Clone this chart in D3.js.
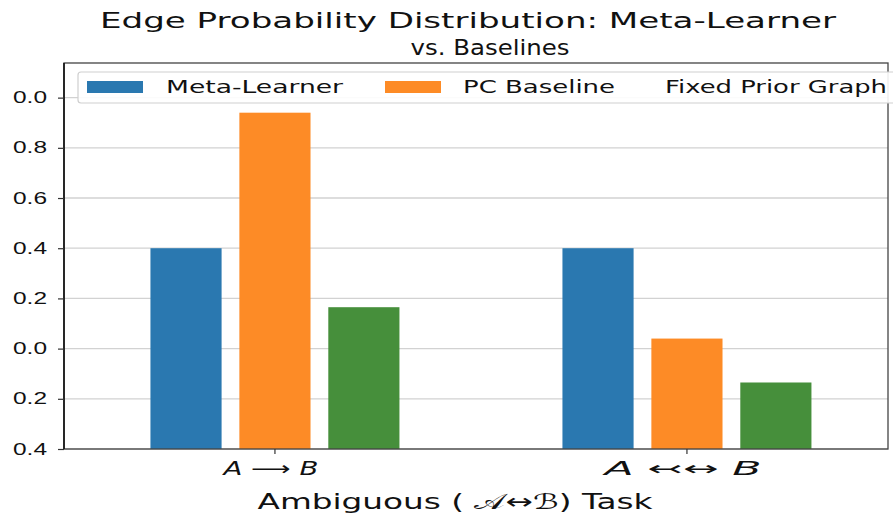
<!DOCTYPE html>
<html lang="en">
<head>
<meta charset="UTF-8">
<title>Edge Probability Distribution</title>
<script src="https://d3js.org/d3.v7.min.js"></script>
<style>
    body { margin: 0; background: #fff; }
    svg { display: block; font-family: "DejaVu Sans", sans-serif; }
</style>
</head>
<body>
<script>

// data
const tasks = ['A → B', 'A ↢↔ B'];
const taskArrows = ['⟶', '↢↔'];
const methods = ['Meta-Learner', 'PC Baseline', 'Fixed Prior Graph'];
const methodColors = ['#2a78b0', '#fd8b26', '#468f3b'];
const legendPatch = [true, true, false];   // third entry shows no patch in the original
const metaLearner = [0.40, 0.40];
const pcBaseline = [0.94, 0.04];
const fixedPrior = [0.165, -0.135];
const yTickValues = [-0.4, -0.2, 0.0, 0.2, 0.4, 0.6, 0.8, 1.0];
const yTickLabels = ['0.4', '0.2', '0.0', '0.2', '0.4', '0.6', '0.8', '0.0'];

const series = [metaLearner, pcBaseline, fixedPrior];

const W = 893, H = 518;
const plot = { left: 64, right: 888, top: 63, bottom: 449 };

const svg = d3.select('body').append('svg')
    .attr('width', W).attr('height', H);

// the source image is stretched sideways, so text gets fitted to a width
const fit = (sel, w) => sel.attr('textLength', w).attr('lengthAdjust', 'spacingAndGlyphs');

const y = d3.scaleLinear().domain([-0.4, 1.138]).range([plot.bottom, plot.top]);
const x = d3.scaleLinear().domain([-0.512, 1.488]).range([plot.left, plot.right]);
const inner = d3.scaleBand().domain(methods).range([-124.5, 124.5]).paddingInner(0.2);

// grid
svg.append('g')
    .selectAll('line')
    .data(yTickValues)
    .join('line')
    .attr('x1', plot.left).attr('x2', plot.right)
    .attr('y1', d => y(d)).attr('y2', d => y(d))
    .style('stroke', '#d2d2d2')
    .style('stroke-width', '1.3px');

// bars
methods.forEach((m, k) => {
    svg.append('g')
        .selectAll('rect')
        .data(series[k])
        .join('rect')
        .attr('x', (d, i) => x(i) + inner(m))
        .attr('width', inner.bandwidth())
        .attr('y', d => y(d))
        .attr('height', d => y(-0.4) - y(d))
        .style('fill', methodColors[k]);
});

// frame
svg.append('rect')
    .attr('x', plot.left).attr('y', plot.top)
    .attr('width', plot.right - plot.left).attr('height', plot.bottom - plot.top)
    .style('fill', 'none').style('stroke', '#444').style('stroke-width', '1.3px');
svg.append('line')
    .attr('x1', plot.left).attr('x2', plot.left)
    .attr('y1', plot.top).attr('y2', plot.bottom)
    .style('stroke', '#111').style('stroke-width', '1.6px');

// y axis
const yAxis = d3.axisLeft(y)
    .tickValues(yTickValues)
    .tickFormat((d, i) => yTickLabels[i])
    .tickSize(6).tickPadding(5);
const gy = svg.append('g').attr('transform', `translate(${plot.left},0)`).call(yAxis);
gy.select('.domain').remove();
gy.selectAll('.tick line').style('stroke', '#333').style('stroke-width', '1.2px');
gy.selectAll('.tick text')
    .style('font-size', '16px').style('fill', '#111')
    .attr('x', -17)
    .call(fit, 34);

// x axis ticks
const gx = svg.append('g');
gx.selectAll('line')
    .data(tasks)
    .join('line')
    .attr('x1', (d, i) => x(i)).attr('x2', (d, i) => x(i))
    .attr('y1', plot.bottom).attr('y2', plot.bottom + 5)
    .style('stroke', '#333').style('stroke-width', '1.2px');
const xt = gx.selectAll('text')
    .data(tasks)
    .join('text')
    .attr('x', (d, i) => x(i) - 4)
    .attr('y', 475)
    .attr('text-anchor', 'middle')
    .style('font-size', '19px')
    .style('fill', '#111');
xt.append('tspan').style('font-style', 'italic').text('A');
xt.append('tspan').text((d, i) => ' ' + taskArrows[i] + ' ');
xt.append('tspan').style('font-style', 'italic').text('B');
xt.each(function (d, i) { d3.select(this).call(fit, i === 0 ? 95 : 157); });

// x axis label
svg.append('text')
    .attr('x', 455).attr('y', 509)
    .attr('text-anchor', 'middle')
    .style('font-size', '21px').style('fill', '#111')
    .text('Ambiguous ( 𝒜↔ℬ) Task')
    .call(fit, 395);

// title
svg.append('text')
    .attr('x', 468).attr('y', 28)
    .attr('text-anchor', 'middle')
    .style('font-size', '22px').style('fill', '#111')
    .text('Edge Probability Distribution: Meta-Learner')
    .call(fit, 736);
svg.append('text')
    .attr('x', 490).attr('y', 55)
    .attr('text-anchor', 'middle')
    .style('font-size', '22px').style('fill', '#111')
    .text('vs. Baselines')
    .call(fit, 159);

// legend
const legend = svg.append('g');
legend.append('rect')
    .attr('x', 78).attr('y', 72)
    .attr('width', 830).attr('height', 31)
    .attr('rx', 3)
    .style('fill', 'rgba(255,255,255,0.9)')
    .style('stroke', '#cfcfcf').style('stroke-width', '1.2px');
const legendX = [87, 385, 600];
const legendTextX = [166, 463, 665];
const legendTextW = [177, 152, 222];
const items = legend.selectAll('g.item')
    .data(methods)
    .join('g').attr('class', 'item');
items.filter((d, i) => legendPatch[i])
    .append('rect')
    .attr('x', d => legendX[methods.indexOf(d)])
    .attr('y', 81)
    .attr('width', 56).attr('height', 12)
    .style('fill', d => methodColors[methods.indexOf(d)]);
items.append('text')
    .attr('x', (d, i) => legendTextX[i])
    .attr('y', 93)
    .style('font-size', '17px').style('fill', '#111')
    .text(d => d)
    .each(function (d, i) { d3.select(this).call(fit, legendTextW[i]); });

</script>
</body>
</html>
